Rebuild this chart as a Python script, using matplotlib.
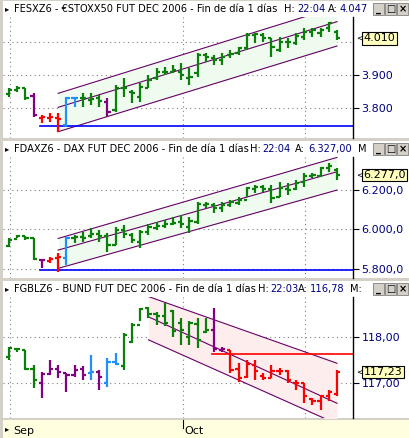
import matplotlib
matplotlib.use("Agg")
import matplotlib.pyplot as plt
from matplotlib.patches import Rectangle

# ---------------- data ----------------
stoxx_open  = [3842,3855,3862,3838,3770,3772,3770,3750,3830,3830,3825,3830,3820,3795,3862,3850,3835,3860,3890,3910,3910,3910,3890,3905,3960,3950,3945,3960,3965,3980,4020,4020,4010,3975,4000,3995,4015,4030,4025,4040,4030]
stoxx_high  = [3860,3867,3860,3845,3780,3785,3785,3835,3835,3845,3845,3840,3830,3870,3890,3855,3875,3900,3920,3925,3930,3935,3920,3965,3965,3960,3965,3975,3985,4025,4025,4025,4010,4015,4010,4025,4040,4040,4040,4060,4035]
stoxx_low   = [3835,3850,3825,3775,3755,3760,3730,3745,3805,3805,3810,3805,3775,3790,3835,3815,3820,3860,3885,3900,3905,3885,3870,3895,3940,3930,3930,3950,3960,3975,3995,4000,3955,3970,3980,3990,4005,4015,4015,4030,4005]
stoxx_close = [3855,3862,3830,3780,3773,3775,3768,3830,3830,3830,3828,3822,3790,3860,3860,3845,3865,3885,3910,3910,3915,3900,3895,3960,3955,3945,3955,3962,3980,4020,4022,4010,3985,4000,3998,4018,4030,4035,4035,4055,4010]
stoxx_color = ["g","g","g","p","r","r","r","b","b","g","g","g","p"] + ["g"]*28

dax_open  = [5915,5950,5965,5955,5845,5840,5855,5855,5955,5960,5965,5975,5965,5920,5995,5970,5935,5985,6005,6015,6030,6040,6010,6040,6125,6125,6110,6125,6135,6150,6205,6215,6205,6165,6205,6205,6240,6270,6270,6310,6300]
dax_high  = [5955,5971,5966,5954,5852,5861,5878,5963,5971,5988,6005,5997,5980,6013,6022,5980,5997,6030,6039,6047,6064,6073,6064,6140,6140,6132,6140,6149,6166,6217,6225,6225,6225,6242,6234,6251,6285,6285,6319,6336,6310]
dax_low   = [5912,5954,5946,5844,5802,5827,5785,5819,5929,5937,5954,5937,5886,5920,5954,5929,5903,5971,5997,6005,6022,6005,5980,6030,6107,6081,6090,6115,6124,6166,6183,6191,6132,6166,6174,6200,6217,6259,6268,6293,6251]
dax_close = [5945,5965,5955,5850,5845,5850,5858,5955,5960,5955,5975,5965,5920,5995,5975,5945,5985,6010,6015,6025,6035,6030,6045,6130,6130,6110,6125,6140,6150,6210,6215,6205,6160,6210,6200,6235,6270,6275,6310,6320,6277]
dax_color = ["g","g","g","g","p","r","r","b"] + ["g"]*33

bund_open  = [117.55,117.72,117.70,117.30,117.00,117.18,117.30,117.20,117.17,117.30,117.20,117.22,116.98,117.45,117.35,117.88,118.25,118.62,118.48,118.45,118.55,118.30,118.00,118.28,118.10,118.15,117.70,117.70,117.30,117.12,117.38,117.14,117.10,117.25,117.25,117.00,117.00,116.65,116.60,116.70,116.75]
bund_high  = [117.78,117.75,117.71,117.38,117.24,117.49,117.38,117.20,117.38,117.35,117.60,117.28,117.53,117.64,118.07,118.29,118.62,118.65,118.54,118.72,118.58,118.40,118.33,118.40,118.40,118.62,117.78,117.71,117.42,117.49,117.49,117.20,117.38,117.31,117.28,117.06,116.99,116.66,116.73,116.84,117.28]
bund_low   = [117.49,117.67,117.28,116.88,116.66,117.17,117.09,116.80,117.13,117.06,117.06,116.84,116.91,117.38,117.28,117.86,118.33,118.40,118.25,118.22,118.00,117.82,117.82,117.75,118.07,117.67,117.67,117.20,117.02,117.09,117.06,117.06,117.09,117.17,116.99,116.84,116.55,116.51,116.41,116.59,116.70]
bund_close = [117.75,117.72,117.30,117.05,117.18,117.30,117.22,117.16,117.27,117.17,117.22,117.13,117.45,117.40,118.04,118.25,118.60,118.50,118.45,118.30,118.12,118.15,118.30,117.92,118.15,117.72,117.72,117.28,117.10,117.40,117.25,117.10,117.25,117.25,117.05,117.00,116.70,116.60,116.70,116.80,117.23]
bund_color = ["g","g","g","g","p","p","p","p","p","p","b","p","b","b"] + ["g"]*11 + ["p","p"] + ["r"]*14

# channels: (start bar, end bar, lower start, lower end, middle start, middle end, upper start, upper end)
stoxx_channel = (6, 40, 3730, 3987, 3803, 4060, 3845, 4105)
dax_channel = (6, 40, 5802, 6200, 5895, 6293, 5954, 6366)
bund_channel = (17, 40, 117.93, 116.10, 118.43, 116.55, 118.87, 117.42)

stoxx_hline = (3.8, 3747)
dax_hline = (3.8, 5793)
bund_hline = (24.7, 117.62)

stoxx_ticks = [3800, 3900]
stoxx_ticklabels = ["3.800", "3.900"]
dax_ticks = [5800, 6000, 6200]
dax_ticklabels = ["5.800,0", "6.000,0", "6.200,0"]
bund_ticks = [117, 118]
bund_ticklabels = ["117,00", "118,00"]

titles = [
    ("FESXZ6 - €STOXX50 FUT DEC 2006 - Fin de día 1 días", [(284, "H:", "k"), (297, "22:04", "navy"), (328, "A:", "k"), (340, "4.047", "navy")]),
    ("FDAXZ6 - DAX FUT DEC 2006 - Fin de día 1 días", [(250, "H:", "k"), (262, "22:04", "navy"), (295, "A:", "k"), (308, "6.327,00", "navy"), (358, "M", "k")]),
    ("FGBLZ6 - BUND FUT DEC 2006 - Fin de día 1 días", [(258, "H:", "k"), (270, "22:03", "navy"), (298, "A:", "k"), (310, "116,78", "navy"), (350, "M:", "k")]),
]
last_labels = ["4.010", "6.277,0", "117,23"]

colmap = {"g": "#0a800a", "p": "#800080", "r": "#ff0000", "b": "#1e90ff"}

W, H = 410, 438
fig = plt.figure(figsize=(W/100, H/100), dpi=100)
fig.patch.set_facecolor("#d4d0c8")

def px(x, y, w, h):
    return [x/W, 1-(y+h)/H, w/W, h/H]

def bgrect(x, y, w, h, fc, ec="none", lw=0.0, z=-5):
    r = Rectangle((x/W, 1-(y+h)/H), w/W, h/H, transform=fig.transFigure,
                  facecolor=fc, edgecolor=ec, lw=lw, zorder=z)
    fig.patches.append(r)

panels = [
    (0, stoxx_open, stoxx_high, stoxx_low, stoxx_close, stoxx_color, stoxx_channel, "#eefbee", stoxx_hline, "blue", (3711, 4074), stoxx_ticks, stoxx_ticklabels),
    (140, dax_open, dax_high, dax_low, dax_close, dax_color, dax_channel, "#eefbee", dax_hline, "blue", (5753, 6368), dax_ticks, dax_ticklabels),
    (280, bund_open, bund_high, bund_low, bund_close, bund_color, bund_channel, "#fdeded", bund_hline, "red", (116.23, 118.86), bund_ticks, bund_ticklabels),
]

XL = (-0.73, 41.95)
for k, (top, o, h, l, c, col, ch, fillc, hl, hlc, ylim, ticks, tlabels) in enumerate(panels):
    bgrect(3, top+1, 407, 16, "white")
    fig.text(14/W, 1-(top+9)/H, titles[k][0], fontsize=7.1, va="center", ha="left")
    for xx, s, cc in titles[k][1]:
        fig.text(xx/W, 1-(top+9)/H, s, fontsize=7.1, va="center", ha="left", color=cc)
    fig.text(5/W, 1-(top+9)/H, "▸", fontsize=6, va="center")
    for j, g in enumerate(["_", "□", "×"]):
        bx = 373 + j*12
        bgrect(bx, top+3, 11, 12, "#d4d0c8", "#808080", 0.6, z=1)
        fig.text((bx+5.5)/W, 1-(top+9)/H, g, fontsize=7, ha="center", va="center", weight="bold")
    bgrect(353, top+17, 57, 121, "white")
    ax = fig.add_axes(px(3, top+17, 350, 121))
    ax.set_xlim(*XL)
    ax.set_ylim(*ylim)
    for s in ["left", "top", "bottom"]:
        ax.spines[s].set_visible(False)
    ax.spines["right"].set_color("black")
    ax.spines["right"].set_linewidth(1)
    for gy in ticks + ([4000] if k == 0 else []):
        ax.axhline(gy, color="#808080", ls=(0, (1, 3)), lw=0.8, zorder=0)
    for gx in [0.1, 21.2, 36.1]:
        ax.axvline(gx, color="#808080", ls=(0, (1, 3)), lw=0.8, zorder=0)
    s0, s1, lo0, lo1, m0, m1, u0, u1 = ch
    ax.fill_between([s0, s1], [lo0, lo1], [u0, u1], color=fillc, zorder=1, lw=0)
    for a, b in [(lo0, lo1), (m0, m1), (u0, u1)]:
        ax.plot([s0, s1], [a, b], color="#660066", lw=0.8, zorder=2)
    ax.plot([hl[0], XL[1]], [hl[1], hl[1]], color=hlc, lw=1.2, zorder=2)
    xs = list(range(len(c)))
    cols = [colmap[v] for v in col]
    ax.vlines(xs, l, h, colors=cols, lw=1.6, zorder=3)
    ax.hlines(o, [x-0.4 for x in xs], xs, colors=cols, lw=1.6, zorder=3)
    ax.hlines(c, xs, [x+0.4 for x in xs], colors=cols, lw=1.6, zorder=3)
    ax.set_xticks([])
    ax.yaxis.tick_right()
    ax.set_yticks(ticks)
    ax.set_yticklabels(tlabels)
    ax.tick_params(axis="y", direction="out", length=4, color="black", labelcolor="#000080", labelsize=8, pad=2)
    ax.annotate(last_labels[k], xy=(1, c[-1]), xycoords=("axes fraction", "data"),
                xytext=(1.03, c[-1]), textcoords=("axes fraction", "data"),
                fontsize=8, va="center", ha="left",
                bbox=dict(boxstyle="square,pad=0.12", fc="#ffffc0", ec="black", lw=0.8))
    fig.text(356/W, 1-(top+17+ (ylim[1]-c[-1])/(ylim[1]-ylim[0])*121)/H, "<", fontsize=6, va="center")

bgrect(3, 420, 407, 18, "#ffffe0")
fig.text(5/W, 9/H, "▸", fontsize=6, va="center")
fig.text(13/W, 7/H, "Sep", fontsize=8, va="center")
fig.text(184/W, 7/H, "Oct", fontsize=8, va="center")
fig.add_artist(plt.Line2D([183/W, 183/W], [10/H, 18/H], color="black", lw=0.8))

fig.savefig("out.png", dpi=100, facecolor=fig.get_facecolor())
